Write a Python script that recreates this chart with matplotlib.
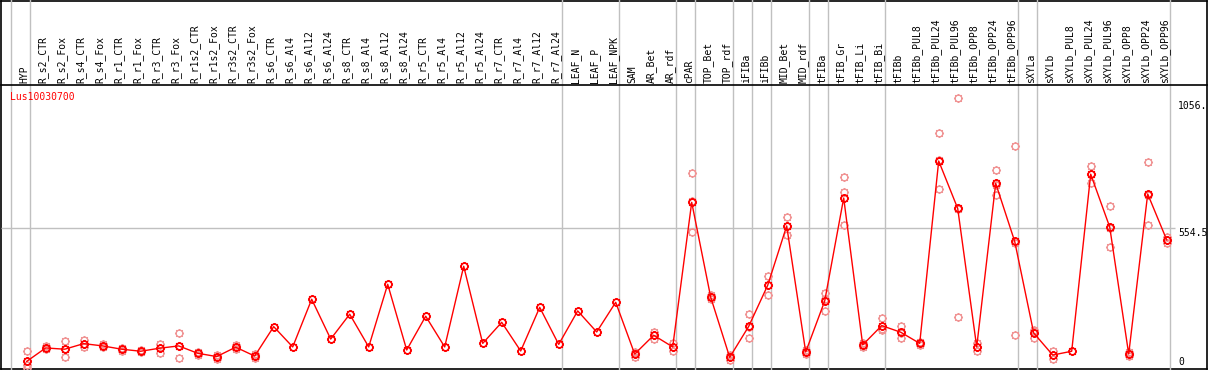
import matplotlib
matplotlib.use("Agg")
import matplotlib.pyplot as plt
from matplotlib.path import Path
import numpy as np

categories = ["HYP", "R_s2_CTR", "R_s2_Fox", "R_s4_CTR", "R_s4_Fox", "R_r1_CTR", "R_r1_Fox",
              "R_r3_CTR", "R_r3_Fox", "R_r1s2_CTR", "R_r1s2_Fox", "R_r3s2_CTR", "R_r3s2_Fox",
              "R_s6_CTR", "R_s6_Al4", "R_s6_Al12", "R_s6_Al24", "R_s8_CTR", "R_s8_Al4",
              "R_s8_Al12", "R_s8_Al24", "R_r5_CTR", "R_r5_Al4", "R_r5_Al12", "R_r5_Al24",
              "R_r7_CTR", "R_r7_Al4", "R_r7_Al12", "R_r7_Al24", "LEAF_N", "LEAF_P", "LEAF_NPK",
              "SAM", "AR_Bet", "AR_rdf", "cPAR", "TOP_Bet", "TOP_rdf", "iFIBa", "iFIBb",
              "MID_Bet", "MID_rdf", "tFIBa", "tFIB_Gr", "tFIB_Li", "tFIB_Bi", "tFIBb",
              "tFIBb_PUL8", "tFIBb_PUL24", "tFIBb_PUL96", "tFIBb_OPP8", "tFIBb_OPP24",
              "tFIBb_OPP96", "sXYLa", "sXYLb", "sXYLb_PUL8", "sXYLb_PUL24", "sXYLb_PUL96",
              "sXYLb_OPP8", "sXYLb_OPP24", "sXYLb_OPP96"]

means = [30, 83, 78, 100, 91, 78, 70, 82, 91, 62, 49, 86, 51,
         167, 87, 275, 118, 216, 87, 334, 75, 208, 87, 405, 101, 184, 71, 243, 97,
         229, 146, 263, 59, 133, 87, 657, 283, 46, 168, 330, 564, 67, 268, 674, 95,
         171, 145, 101, 820, 633, 87, 732, 503, 142, 55, 70, 768, 560, 59, 690, 509]

replicates = [[71, 15, 5], [90, 78, 81], [110, 46, 77], [114, 88, 100], [97, 85, 91],
              [83, 71, 79], [74, 66, 70], [100, 64, 81], [141, 42, 90], [67, 57, 62],
              [56, 41, 49], [93, 78, 86], [59, 43, 51],
              [], [], [], [], [], [], [], [], [], [], [], [], [], [], [], [], [], [], [],
              [68, 46, 63], [147, 119, 133], [101, 72, 87], [771, 539, 661],
              [290, 276, 283], [55, 37, 46], [216, 122, 167], [367, 291, 333],
              [599, 527, 565], [74, 60, 67], [301, 229, 275], [756, 697, 567],
              [102, 87, 95], [201, 154, 158], [170, 121, 143], [108, 94, 101],
              [929, 708, 822], [1067, 204, 629], [101, 72, 87], [785, 686, 725],
              [879, 133, 498], [154, 121, 151], [72, 38, 55], [], [800, 732, 770],
              [643, 480, 557], [68, 50, 59], [816, 567, 687], [521, 495, 509]]

group_ends = [-1, 0, 28, 31, 34, 35, 37, 38, 39, 41, 42, 45, 52, 53, 60]
ytick_values = [1056, 554.5, 0]
ytick_labels = ["1056.", "554.5", "0"]
gene = "Lus10030700"

W, H = 1209, 370
fig = plt.figure(figsize=(W / 100, H / 100), dpi=100)
font = dict(family="DejaVu Sans Mono", size=7)
GRAY = "#c0c0c0"

# frame axes (whole box)
fr = fig.add_axes([1 / W, 1 / H, 1206 / W, 368.5 / H])
fr.set_xticks([]); fr.set_yticks([])
for s in fr.spines.values():
    s.set_color("black"); s.set_linewidth(1.2)
fr.patch.set_alpha(0)

# data axes
top_px = 85
ax = fig.add_axes([1 / W, 1 / H, 1206 / W, (369 - top_px) / H])
ax.patch.set_alpha(0)
ax.set_xticks([]); ax.set_yticks([])
for k in ["left", "right", "bottom"]:
    ax.spines[k].set_visible(False)
ax.spines["top"].set_color("black"); ax.spines["top"].set_linewidth(1.2)

x0 = (1 - 26.7) / 19
x1 = (1207 - 26.7) / 19
ax.set_xlim(x0, x1)
ax.set_ylim(0, (369 - top_px) * 3.942)

ext = 369 / (369 - top_px)
for g in group_ends:
    ax.axvline(g + 0.19, ymin=0, ymax=ext, color=GRAY, lw=1, clip_on=False, zorder=0)
ax.hlines(554.5, x0, 60.45, color=GRAY, lw=1, zorder=0)

x = np.arange(len(categories))

# spiky circle marker
verts = []
codes = []
th = np.linspace(0, 2 * np.pi, 33)
for t in th:
    verts.append((np.cos(t), np.sin(t)))
codes = [Path.MOVETO] + [Path.LINETO] * (len(th) - 1)
for a in np.arange(0, 2 * np.pi, np.pi / 4):
    verts += [(np.cos(a), np.sin(a)), (1.35 * np.cos(a), 1.35 * np.sin(a))]
    codes += [Path.MOVETO, Path.LINETO]
spiky = Path(verts, codes)

for i, reps in enumerate(replicates):
    if reps:
        ax.plot([i] * len(reps), reps, linestyle="none", marker=spiky, markersize=6.5,
                markerfacecolor="none", markeredgecolor="#f09494", markeredgewidth=1.0,
                zorder=2)

ax.plot(x, means, color="red", lw=1, zorder=3)
ax.plot(x, means, linestyle="none", marker=spiky, markersize=6.5, markerfacecolor="none",
        markeredgecolor="red", markeredgewidth=1.2, zorder=4)

for i, c in enumerate(categories):
    ax.text(i - 0.12, (369 - 83) / (369 - top_px), c, transform=ax.get_xaxis_transform(),
            rotation=90, ha="center", va="bottom", clip_on=False, **font)

ax.text((10 - 1) / 1206, (369 - 97) / (369 - top_px), gene, transform=ax.transAxes,
        color="red", ha="left", va="center", **font)

xt = (1178 - 26.7) / 19
for v, lab in zip(ytick_values, ytick_labels):
    if v == 0:
        ax.text(xt, 8, lab, ha="left", va="bottom", **font)
    else:
        ax.text(xt, v, lab, ha="left", va="top", **font)

fig.savefig("out.png", dpi=100)
